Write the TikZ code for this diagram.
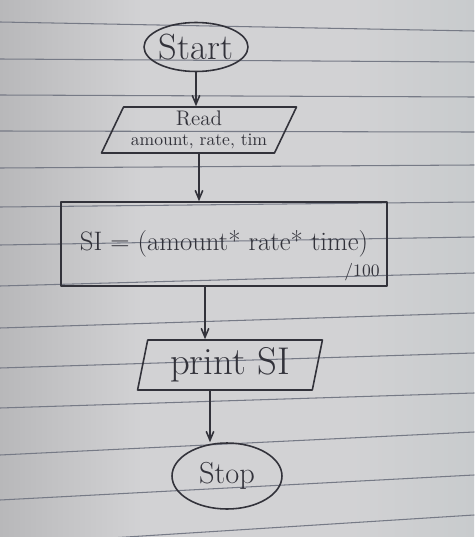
\documentclass[tikz,border=0pt]{standalone}
\usepackage{tikz}
\usetikzlibrary{arrows,shapes.geometric}
\definecolor{ink}{RGB}{50,50,58}
\definecolor{rulecol}{RGB}{118,122,134}
\definecolor{paperleft}{RGB}{184,184,186}
\definecolor{paperlight}{RGB}{210,210,212}
\definecolor{paperright}{RGB}{200,203,205}
\pgfdeclarehorizontalshading{paper}{100bp}{color(0bp)=(paperleft); color(25bp)=(paperleft); color(40bp)=(paperlight); color(62bp)=(paperlight); color(75bp)=(paperright); color(100bp)=(paperright)}

\begin{document}
\begin{tikzpicture}[line cap=round,line join=round,>=angle 45,x=0.02cm,y=-0.02cm,
    ink line/.style={draw=ink,line width=0.9pt},
    terminal/.style={ellipse,ink line,inner sep=0pt,text=ink},
    io/.style={trapezium,trapezium stretches=true,ink line,inner sep=0pt,text=ink},
    procbox/.style={rectangle,ink line,inner sep=0pt,text=ink}]
        \shade [shading=paper] (0,0) rectangle (474,537);
        \useasboundingbox (0,0) rectangle (474,537);
        % ruled lines of the paper
        \draw [rulecol,line width=0.6pt] (0,22) -- (474,31);
        \draw [rulecol,line width=0.6pt] (0,59) -- (474,62);
        \draw [rulecol,line width=0.6pt] (0,95) -- (474,97);
        \draw [rulecol,line width=0.6pt] (0,131) -- (474,132);
        \draw [rulecol,line width=0.6pt] (0,168) -- (474,165);
        \draw [rulecol,line width=0.6pt] (0,207) -- (474,202);
        \draw [rulecol,line width=0.6pt] (0,245) -- (474,237);
        \draw [rulecol,line width=0.6pt] (0,286) -- (474,273);
        \draw [rulecol,line width=0.6pt] (0,328) -- (474,313);
        \draw [rulecol,line width=0.6pt] (0,368) -- (474,353);
        \draw [rulecol,line width=0.6pt] (0,408) -- (474,393);
        \draw [rulecol,line width=0.6pt] (0,455) -- (474,432);
        \draw [rulecol,line width=0.6pt] (0,500) -- (474,475);
        \draw [rulecol,line width=0.6pt] (0,545) -- (474,515);
        % flowchart
        \node [terminal,minimum width=2.08cm,minimum height=0.98cm,inner xsep=-4pt] (start) at (196,47) {\huge Start};
        \node [io,trapezium left angle=62,trapezium right angle=118,minimum width=3.94cm,minimum height=0.92cm,align=center] (read) at (199,130) {{\large Read}\\[-1pt]amount, rate, tim};
        \node [procbox,minimum width=6.52cm,minimum height=1.68cm] (si) at (224,244) {\fontsize{15.2}{18}\selectfont SI = (amount* rate* time)};
        \node [text=ink,inner sep=0pt] (hundred) at (362,272) {/100};
        \node [io,trapezium left angle=78,trapezium right angle=102,minimum width=3.72cm,minimum height=1cm] (printsi) at (230,365) {\fontsize{22}{26}\selectfont print SI};
        \node [terminal,minimum width=2.2cm,minimum height=1.32cm] (stop) at (227,476) {\LARGE Stop};
        \coordinate (printin) at ([xshift=-0.5cm]printsi.north);
        \coordinate (stopin) at ([xshift=-0.34cm]stop.north);
        \draw [->,ink line] (start) -- (start |- read.north);
        \draw [->,ink line] (read.south) -- (read.south |- si.north);
        \draw [->,ink line] (printin |- si.south) -- (printin);
        \draw [->,ink line] (stopin |- printsi.south) -- (stopin);
    \end{tikzpicture}
\end{document}
